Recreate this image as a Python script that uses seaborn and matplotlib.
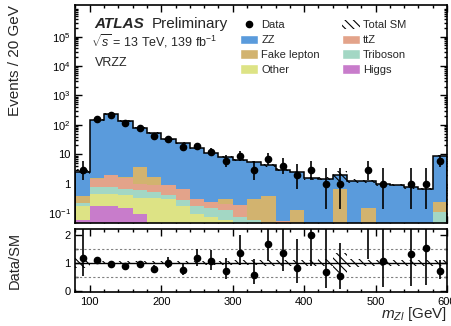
import numpy as np
import pandas as pd
import seaborn as sns
from matplotlib import pyplot as plt
from matplotlib import ticker as plticker
from matplotlib.patches import Patch
from matplotlib.lines import Line2D

# 20 GeV bins from 80 to 600 GeV
edges = np.arange(80, 601, 20)
centers = edges[:-1] + 10

# observed events per bin
data_counts = [3, 160, 218, 117, 77, 41, 32, 18, 19, 12, 6, 9, 3,
               7, 4, 2, 3, 1, 1, 0, 3, 1, 0, 1, 1, 6]

# expected events per process and bin
zz = [2.20, 143.5, 228.0, 131.4, 77.3, 50.3, 31.4, 23.3, 16.2, 11.2, 8.0,
      6.4, 5.0, 3.83, 2.95, 2.37, 1.50, 1.48, 1.26, 1.25, 1.05, 0.95,
      0.90, 0.76, 0.66, 8.5]
fake = [0.17, 0.02, 0.05, 0.05, 2.70, 0.80, 0.03, 0.02, 0, 0, 0.11, 0,
        0.25, 0.35, 0, 0.13, 0, 0, 0.68, 0, 0.15, 0, 0, 0, 0, 0.12]
ttz = [0, 0.71, 1.10, 0.92, 0.40, 0.37, 0.47, 0.39, 0.11, 0.09, 0.07,
       0.115, 0, 0.01, 0.055, 0, 0, 0, 0, 0, 0, 0, 0, 0, 0, 0]
triboson = [0.04, 0.34, 0.37, 0.28, 0.27, 0.20, 0.10, 0.10, 0.09, 0.075,
            0.07, 0.035, 0.05, 0.01, 0, 0, 0, 0, 0, 0, 0, 0, 0, 0, 0, 0.11]
other = [0.12, 0.25, 0.25, 0.25, 0.24, 0.29, 0.29, 0.17, 0.09, 0.075,
         0.06, 0.04, 0.01, 0, 0, 0, 0, 0, 0, 0, 0, 0, 0, 0, 0, 0]
higgs = [0.06, 0.18, 0.18, 0.15, 0.09, 0.04, 0.01, 0, 0, 0, 0, 0, 0,
         0, 0, 0, 0, 0, 0, 0, 0, 0, 0, 0, 0, 0]

# relative uncertainty on the total SM prediction
rel_unc = [0.18, 0.06, 0.06, 0.06, 0.06, 0.06, 0.06, 0.06, 0.06, 0.07,
           0.07, 0.08, 0.08, 0.10, 0.10, 0.10, 0.10, 0.12, 0.35, 0.15,
           0.10, 0.10, 0.10, 0.10, 0.10, 0.10]

processes = ['ZZ', 'Fake lepton', 'ttZ', 'Triboson', 'Other', 'Higgs']
colors = {'ZZ': '#5a9bdc', 'Fake lepton': '#d2b36f', 'ttZ': '#e3a38a',
          'Triboson': '#a3d7c4', 'Other': '#dde385', 'Higgs': '#c87ccb'}
yields = {'ZZ': zz, 'Fake lepton': fake, 'ttZ': ttz,
          'Triboson': triboson, 'Other': other, 'Higgs': higgs}

# long format table for seaborn
rows = []
for proc in processes:
    for c, w in zip(centers, yields[proc]):
        rows.append({'mass': float(c), 'weight': float(w), 'process': proc})
df = pd.DataFrame(rows)

data = np.array(data_counts, dtype=float)
total = np.sum([np.array(yields[p]) for p in processes], axis=0)
rel = np.array(rel_unc)

sns.set_style('ticks')
plt.rcParams['font.family'] = ['Liberation Sans', 'DejaVu Sans']
plt.rcParams['mathtext.fontset'] = 'custom'
plt.rcParams['mathtext.rm'] = 'Liberation Sans'
plt.rcParams['mathtext.it'] = 'Liberation Sans:italic'
plt.rcParams['mathtext.bf'] = 'Liberation Sans:bold'
plt.rcParams['hatch.color'] = 'black'
plt.rcParams['hatch.linewidth'] = 0.8

fig = plt.figure(figsize=(4.52, 3.26), dpi=100)
ax = fig.add_axes([0.167, 0.316, 0.822, 0.669])
axr = fig.add_axes([0.167, 0.104, 0.822, 0.193])

# stacked backgrounds
sns.histplot(data=df, x='mass', weights='weight', hue='process',
             hue_order=processes, palette=colors, multiple='stack',
             bins=[float(e) for e in edges], element='step', fill=True,
             alpha=1, linewidth=0, legend=False, ax=ax)
ax.set_yscale('log')

# total SM line and hatched uncertainty band
ax.stairs(total, edges, color='black', linewidth=1.1)
lo = total * (1 - rel)
hi = total * (1 + rel)
ax.fill_between(edges, np.append(lo, lo[-1]), np.append(hi, hi[-1]),
                step='post', facecolor='none', edgecolor='black',
                hatch='\\\\\\\\', linewidth=0)

# data points with poisson-like errors
mask = data > 0
err_dn = np.sqrt(np.clip(data - 0.25, 0, None))
err_up = np.sqrt(data + 0.75) + 1
ax.errorbar(centers[mask], data[mask],
            yerr=[err_dn[mask], err_up[mask]], fmt='o', color='black',
            ms=4.5, elinewidth=1.2, capsize=0)

ax.set_xlim(80, 600)
ax.set_ylim(0.046, 1.2e6)
ax.set_xlabel('')
ax.set_ylabel('')


def log_fmt(v, pos):
    if np.isclose(v, 1):
        return '1'
    if np.isclose(v, 10):
        return '10'
    return r'$10^{%d}$' % round(np.log10(v))


ax.yaxis.set_major_locator(plticker.FixedLocator([0.1, 1, 10, 1e2, 1e3,
                                                  1e4, 1e5]))
ax.yaxis.set_major_formatter(plticker.FuncFormatter(log_fmt))
ax.yaxis.set_minor_locator(plticker.LogLocator(subs=np.arange(2, 10),
                                               numticks=20))
ax.yaxis.set_minor_formatter(plticker.NullFormatter())
ax.xaxis.set_major_locator(plticker.MultipleLocator(100))
ax.xaxis.set_minor_locator(plticker.MultipleLocator(20))
ax.tick_params(labelbottom=False)

# ratio panel
ratio = np.where(mask, data / total, np.nan)
axr.fill_between(edges, np.append(1 - rel, 1 - rel[-1]),
                 np.append(1 + rel, 1 + rel[-1]), step='post',
                 facecolor='none', edgecolor='black', hatch='\\\\\\\\',
                 linewidth=0)
axr.axhline(1, color='black', linewidth=1)
for lvl in (0.5, 1.5):
    axr.axhline(lvl, color='grey', linewidth=0.8, linestyle=(0, (2, 2)))
axr.errorbar(centers[mask], ratio[mask],
             yerr=[err_dn[mask] / total[mask], err_up[mask] / total[mask]],
             fmt='o', color='black', ms=4.5, elinewidth=1.2, capsize=0)
axr.set_xlim(80, 600)
axr.set_ylim(-0.05, 2.2)
axr.yaxis.set_major_locator(plticker.FixedLocator([0, 1, 2]))
axr.yaxis.set_minor_locator(plticker.MultipleLocator(0.5))
axr.xaxis.set_major_locator(plticker.MultipleLocator(100))
axr.xaxis.set_minor_locator(plticker.MultipleLocator(20))

for a in (ax, axr):
    a.tick_params(which='both', direction='in', top=True, right=True,
                  labelsize=8, width=1, color='black', labelcolor='black')
    a.tick_params(which='major', length=5)
    a.tick_params(which='minor', length=2.5)
    for s in a.spines.values():
        s.set_linewidth(1.2)
        s.set_color('black')

# labels
fig.text(15 / 452, 1 - 5 / 326, 'Events / 20 GeV', rotation=90,
         ha='center', va='top', fontsize=11)
fig.text(15 / 452, 1 - 260 / 326, 'Data/SM', rotation=90,
         ha='center', va='center', fontsize=10.5)
fig.text(447 / 452, 1 - 318 / 326, r'$m_{Zl}$ [GeV]', ha='right',
         va='baseline', fontsize=11)

ax.text(0.052, 0.894, 'ATLAS', transform=ax.transAxes, fontsize=11,
        fontweight='bold', style='italic', va='baseline')
ax.text(0.206, 0.894, 'Preliminary', transform=ax.transAxes, fontsize=11,
        va='baseline')
ax.text(0.042, 0.807, r'$\sqrt{s}$ = 13 TeV, 139 fb$^{-1}$',
        transform=ax.transAxes, fontsize=9, va='baseline')
ax.text(0.052, 0.72, 'VRZZ', transform=ax.transAxes, fontsize=9,
        va='baseline')

# legend
handles = [
    Line2D([], [], marker='o', color='black', ls='none', ms=4.5),
    Patch(facecolor=colors['ZZ']),
    Patch(facecolor=colors['Fake lepton']),
    Patch(facecolor=colors['Other']),
    Patch(facecolor='none', edgecolor='black', hatch='\\\\\\\\',
          linewidth=0),
    Patch(facecolor=colors['ttZ']),
    Patch(facecolor=colors['Triboson']),
    Patch(facecolor=colors['Higgs']),
]
labels = ['Data', 'ZZ', 'Fake lepton', 'Other',
          'Total SM', 'ttZ', 'Triboson', 'Higgs']
ax.legend(handles, labels, ncol=2, loc='upper left',
          bbox_to_anchor=(0.443, 0.932), frameon=False, fontsize=8,
          handlelength=1.6, handleheight=0.9, handletextpad=0.3,
          labelspacing=0.4, columnspacing=2.0, borderpad=0,
          borderaxespad=0)

fig.savefig('out.png', dpi=100)
